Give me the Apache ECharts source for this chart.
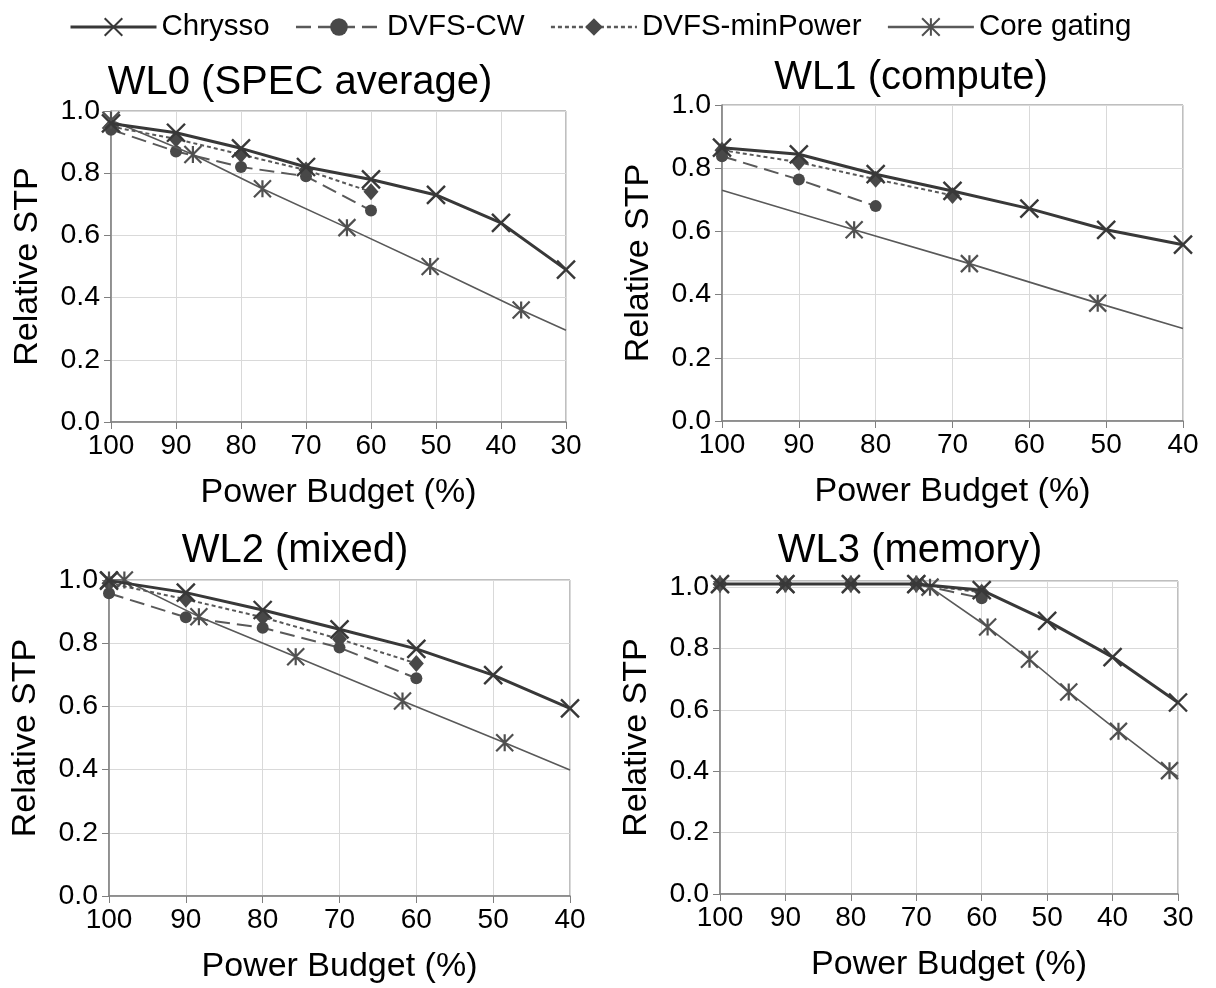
<!DOCTYPE html>
<html>
<head>
<meta charset="utf-8">
<script src="https://cdn.jsdelivr.net/npm/echarts@6/dist/echarts.min.js"></script>
<style>html,body{margin:0;padding:0;background:#fff}#c{width:1216px;height:988px}</style>
</head>
<body>
<div id="c"></div>
<script>
// ---------- DATA ----------
const seriesNames = ['Chrysso', 'DVFS-CW', 'DVFS-minPower', 'Core gating'];
const panelTitles = ['WL0 (SPEC average)', 'WL1 (compute)', 'WL2 (mixed)', 'WL3 (memory)'];
const budgetsFull = [100, 90, 80, 70, 60, 50, 40, 30];
const yTicks = [0.0, 0.2, 0.4, 0.6, 0.8, 1.0];

// WL0
const wl0Chrysso = [0.96, 0.93, 0.88, 0.82, 0.78, 0.73, 0.64, 0.49];
const wl0Cw = [0.94, 0.87, 0.82, 0.79, 0.68];
const wl0MinP = [0.95, 0.91, 0.86, 0.81, 0.74];
const wl0CoreX = [100, 87.4, 76.7, 63.7, 50.9, 36.9, 30];
const wl0CoreY = [0.97, 0.86, 0.75, 0.625, 0.50, 0.36, 0.295];
const wl0CoreNoMark = [6];
// WL1
const wl1Chrysso = [0.865, 0.844, 0.781, 0.728, 0.672, 0.605, 0.558];
const wl1Cw = [0.838, 0.764, 0.68];
const wl1MinP = [0.857, 0.819, 0.765, 0.714];
const wl1CoreX = [100, 82.8, 67.8, 51.1, 40];
const wl1CoreY = [0.73, 0.605, 0.498, 0.373, 0.293];
const wl1CoreNoMark = [0, 4];
// WL2
const wl2Chrysso = [0.998, 0.96, 0.905, 0.844, 0.782, 0.699, 0.594];
const wl2Cw = [0.958, 0.882, 0.849, 0.786, 0.689];
const wl2MinP = [0.99, 0.939, 0.882, 0.813, 0.736];
const wl2CoreX = [100, 98, 88.3, 75.7, 61.8, 48.5, 40];
const wl2CoreY = [1.0, 1.0, 0.884, 0.757, 0.617, 0.485, 0.399];
const wl2CoreNoMark = [6];
// WL3
const wl3Chrysso = [1.01, 1.01, 1.01, 1.01, 0.99, 0.89, 0.772, 0.624];
const wl3Cw = [1.01, 1.01, 1.01, 1.01, 0.964];
const wl3MinP = [1.01, 1.01, 1.01, 1.01, 0.983];
const wl3CoreX = [100, 90, 80, 70, 67.9, 59.1, 52.7, 46.7, 39.1, 31.3, 30];
const wl3CoreY = [1.01, 1.01, 1.01, 1.01, 1.0, 0.87, 0.765, 0.658, 0.53, 0.402, 0.383];
const wl3CoreNoMark = [10];

const panels = [
  {chrysso: wl0Chrysso, cw: wl0Cw, minP: wl0MinP, coreX: wl0CoreX, coreY: wl0CoreY, noMark: wl0CoreNoMark, xMin: 30, yMax: 1.0},
  {chrysso: wl1Chrysso, cw: wl1Cw, minP: wl1MinP, coreX: wl1CoreX, coreY: wl1CoreY, noMark: wl1CoreNoMark, xMin: 40, yMax: 1.0},
  {chrysso: wl2Chrysso, cw: wl2Cw, minP: wl2MinP, coreX: wl2CoreX, coreY: wl2CoreY, noMark: wl2CoreNoMark, xMin: 40, yMax: 1.0},
  {chrysso: wl3Chrysso, cw: wl3Cw, minP: wl3MinP, coreX: wl3CoreX, coreY: wl3CoreY, noMark: wl3CoreNoMark, xMin: 30, yMax: 1.02}
];

// ---------- LAYOUT / STYLE ----------
const FONT = '"Liberation Sans", Arial, sans-serif';
const grids = [
  {left: 111, top: 111, width: 455, height: 311},
  {left: 722, top: 105, width: 461, height: 316},
  {left: 109, top: 580, width: 461, height: 316},
  {left: 720, top: 581, width: 458, height: 313}
];
const titlePos = [
  {x: 295, y: 58}, {x: 906, y: 53}, {x: 290, y: 526}, {x: 905, y: 526}
];
const X_PATH = 'path://M0,0L20,20M20,0L0,20';
const STAR_PATH = 'path://M0,0L20,20M20,0L0,20M10,0L10,20';
const legendLineWidths = [3, 2.6, 2.6, 2.6];

function pairs(xs, ys) { return ys.map((v, i) => [xs[i], v]); }
function corePairs(p) {
  return p.coreY.map((v, i) => (p.noMark.indexOf(i) >= 0
    ? {value: [p.coreX[i], v], symbol: 'none'}
    : [p.coreX[i], v]));
}

const option = {
  animation: false,
  backgroundColor: '#fff',
  textStyle: {fontFamily: FONT},
  title: panelTitles.map((t, i) => ({
    text: t, left: titlePos[i].x, top: titlePos[i].y, textAlign: 'center',
    textStyle: {fontFamily: FONT, fontSize: 40, fontWeight: 'normal', color: '#000'}
  })),
  legend: {
    top: 7, left: 64, itemWidth: 86, itemHeight: 22, itemGap: 25,
    textStyle: {fontFamily: FONT, fontSize: 29.5, color: '#000'},
    data: seriesNames.map((n, k) => ({name: n, lineStyle: {width: legendLineWidths[k]}}))
  },
  grid: grids.map(g => Object.assign({show: true, borderColor: '#7f7f7f', borderWidth: 1, backgroundColor: 'transparent', containLabel: false}, g)),
  xAxis: panels.map((p, i) => ({
    type: 'value', gridIndex: i, min: p.xMin, max: 100, interval: 10, inverse: true,
    name: 'Power Budget (%)', nameLocation: 'middle', nameGap: 54,
    nameTextStyle: {fontFamily: FONT, fontSize: 34, color: '#000'},
    axisLine: {lineStyle: {color: '#7f7f7f', width: 1.5}},
    axisTick: {show: true, length: 7, lineStyle: {color: '#7f7f7f'}},
    axisLabel: {fontFamily: FONT, fontSize: 28, color: '#000', margin: 10},
    splitLine: {show: true, lineStyle: {color: '#d9d9d9', width: 1}}
  })),
  yAxis: panels.map((p, i) => ({
    type: 'value', gridIndex: i, min: 0, max: p.yMax, interval: 0.2,
    name: 'Relative STP', nameLocation: 'middle', nameGap: 66, nameRotate: 90,
    nameTextStyle: {fontFamily: FONT, fontSize: 34, color: '#000'},
    axisLine: {show: true, lineStyle: {color: '#7f7f7f', width: 1.5}},
    axisTick: {show: true, length: 7, lineStyle: {color: '#7f7f7f'}},
    axisLabel: {
      fontFamily: FONT, fontSize: 28.5, color: '#000', margin: 11,
      formatter: v => (Math.abs(v * 5 - Math.round(v * 5)) < 1e-6 ? v.toFixed(1) : '')
    },
    splitLine: {show: true, lineStyle: {color: '#d9d9d9', width: 1}}
  })),
  series: []
};

panels.forEach((p, i) => {
  option.series.push({
    name: 'DVFS-CW', type: 'line', xAxisIndex: i, yAxisIndex: i, clip: false, z: 2,
    data: pairs(budgetsFull, p.cw),
    symbol: 'circle', symbolSize: 12,
    lineStyle: {color: '#595959', width: 2, type: [15, 7]},
    itemStyle: {color: '#484848', borderWidth: 0}
  });
  option.series.push({
    name: 'DVFS-minPower', type: 'line', xAxisIndex: i, yAxisIndex: i, clip: false, z: 3,
    data: pairs(budgetsFull, p.minP),
    symbol: 'diamond', symbolSize: [15, 17],
    lineStyle: {color: '#595959', width: 2, type: [4, 3]},
    itemStyle: {color: '#484848', borderWidth: 0}
  });
  option.series.push({
    name: 'Core gating', type: 'line', xAxisIndex: i, yAxisIndex: i, clip: false, z: 4,
    data: corePairs(p),
    symbol: STAR_PATH, symbolSize: 17,
    lineStyle: {color: '#595959', width: 1.6},
    itemStyle: {color: '#595959', borderColor: '#505050', borderWidth: 2.2}
  });
  option.series.push({
    name: 'Chrysso', type: 'line', xAxisIndex: i, yAxisIndex: i, clip: false, z: 5,
    data: pairs(budgetsFull, p.chrysso),
    symbol: X_PATH, symbolSize: 18,
    lineStyle: {color: '#383838', width: 3},
    itemStyle: {color: '#383838', borderColor: '#383838', borderWidth: 2.4}
  });
});

const chart = echarts.init(document.getElementById('c'), null, {renderer: 'canvas'});
chart.setOption(option);
</script>
</body>
</html>
